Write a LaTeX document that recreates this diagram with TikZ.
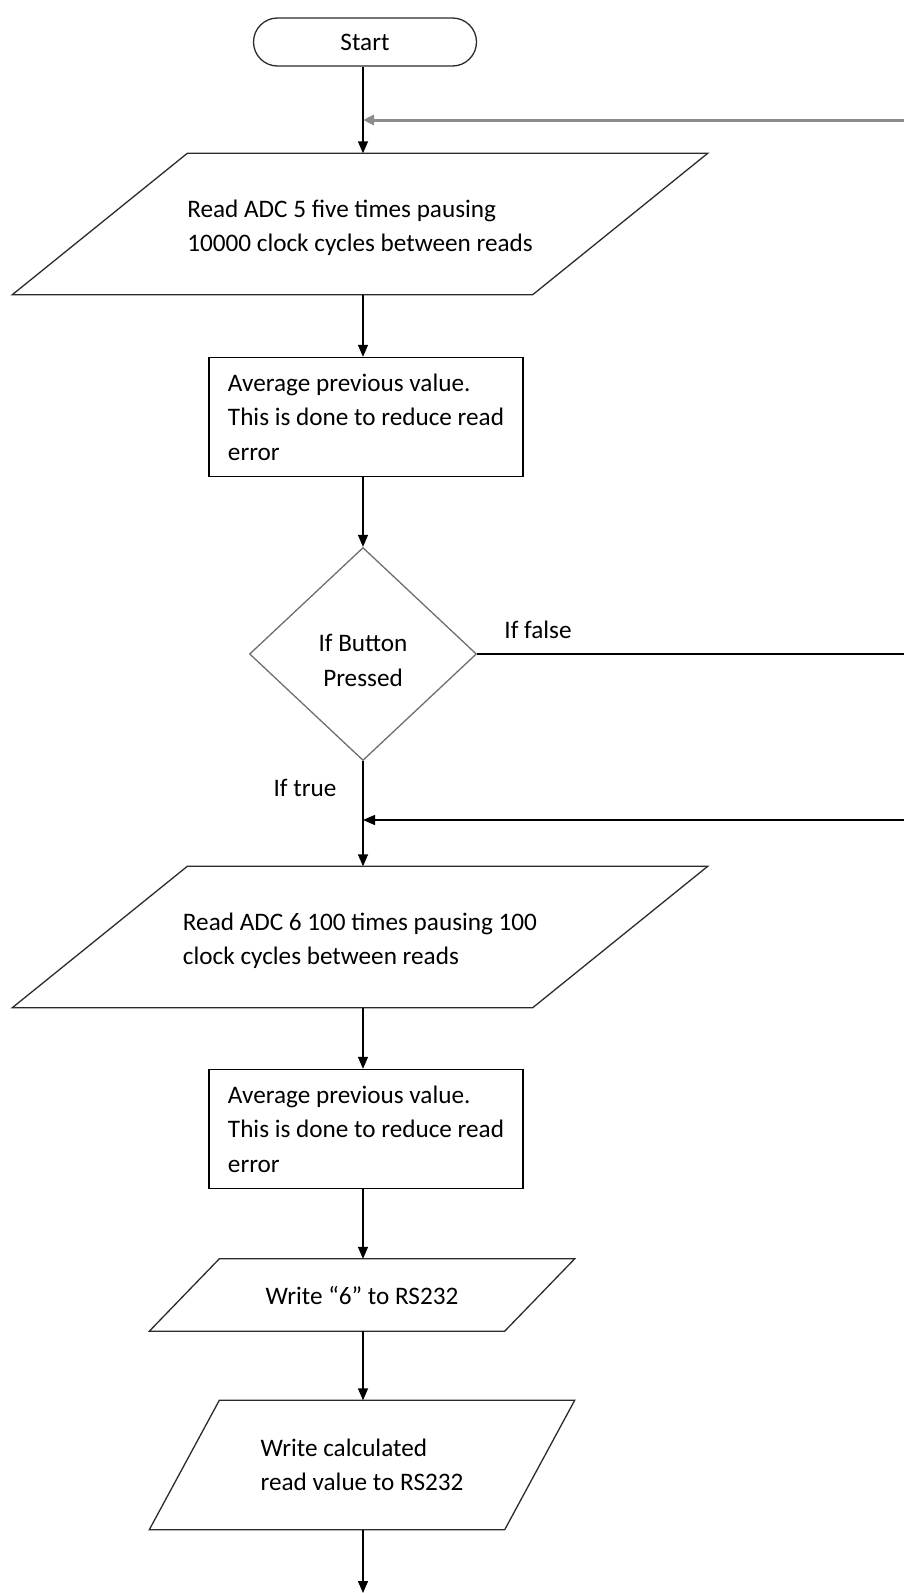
\documentclass[tikz,border=0pt]{standalone}
\usepackage{fontspec}
\setmainfont{Carlito}
\usetikzlibrary{arrows.meta,positioning,shapes.geometric}
\definecolor{inkline}{HTML}{2B2B2B}
\definecolor{edgegray}{HTML}{6E6E6E}
\definecolor{loopgray}{HTML}{8C8C8C}

\tikzset{
  flow/.style={draw=black,line width=1.4pt,-{Triangle[length=12pt,width=10pt]}},
  plainline/.style={draw=black,line width=1.4pt},
  loopline/.style={draw=loopgray,line width=3pt,-{Triangle[length=11pt,width=10pt]}},
  ioline/.style={draw=inkline,line width=1.3pt,line join=miter},
}

\begin{document}
\begin{tikzpicture}[x=1pt,y=-1pt,font=\fontsize{25.2}{34.5}\selectfont,
  terminal/.style={draw=inkline,line width=1.3pt,rounded corners=24pt,
                   minimum width=223pt,minimum height=48pt,inner sep=0pt},
  iobox/.style={inner sep=0pt,align=left,
     append after command={\pgfextra{\draw[ioline]
       ([xshift=#1]\tikzlastnode.north west) -- ([xshift=#1]\tikzlastnode.north east)
       -- ([xshift=-#1]\tikzlastnode.south east) -- ([xshift=-#1]\tikzlastnode.south west)
       -- cycle;}}},
  procbox/.style={draw=black,line width=1.4pt,minimum width=314pt,minimum height=119pt,
                  align=left},
  decision/.style={diamond,draw=edgegray,line width=1.3pt,minimum width=227pt,
                   minimum height=213pt,inner sep=0pt,align=center},
  note/.style={inner sep=0pt}]
\useasboundingbox (0,0) rectangle (904,1593);

% main column
\node[terminal] (start) at (365,42) {Start};
\node[iobox=87.5pt,minimum width=520pt,minimum height=141pt]
      (readfive) at (360,224) {\rule{0pt}{25pt}Read ADC 5 five times pausing\\10000 clock cycles between reads};
\node[procbox] (avgfive) at (366,417) {Average previous value.\\This is done to reduce read\\error};
\node[decision] (button) at (363,654) {\rule{0pt}{30pt}If Button\\Pressed};
\node[iobox=87.5pt,minimum width=520pt,minimum height=141pt]
      (readsix) at (360,937) {\rule{0pt}{25pt}Read ADC 6 100 times pausing 100\\clock cycles between reads};
\node[procbox] (avgsix) at (366,1129) {Average previous value.\\This is done to reduce read\\error};
\node[iobox=35pt,minimum width=355pt,minimum height=72pt]
      (sendsix) at (362,1295) {Write “6” to RS232};
\node[iobox=35pt,minimum width=355pt,minimum height=129pt]
      (sendval) at (362,1465) {Write calculated\\read value to RS232};

% branch labels
\node[note] (lfalse) at (538,630) {If false};
\node[note] (ltrue) at (305,788) {If true};

% free ends at the right edge and bottom
\coordinate (edgetop) at (904,120);
\coordinate (jointop) at (363,120);
\coordinate (edgefalse) at (904,654);
\coordinate (edgemid) at (904,820);
\coordinate (joinmid) at (363,820);
\coordinate (bottom) at (363,1593);

% connectors
\draw[flow] (start.south -| jointop) -- (readfive.north -| jointop);
\draw[flow] (readfive.south -| jointop) -- (avgfive.north -| jointop);
\draw[flow] (avgfive.south -| jointop) -- (button.north -| jointop);
\draw[flow] (button.south -| jointop) -- (readsix.north -| jointop);
\draw[flow] (readsix.south -| jointop) -- (avgsix.north -| jointop);
\draw[flow] (avgsix.south -| jointop) -- (sendsix.north -| jointop);
\draw[flow] (sendsix.south -| jointop) -- (sendval.north -| jointop);
\draw[flow] (sendval.south -| jointop) -- (bottom);
\draw[plainline] (button.east) -- (edgefalse);
\draw[loopline] (edgetop) -- (jointop);
\draw[flow] (edgemid) -- (joinmid);
\end{tikzpicture}
\end{document}
